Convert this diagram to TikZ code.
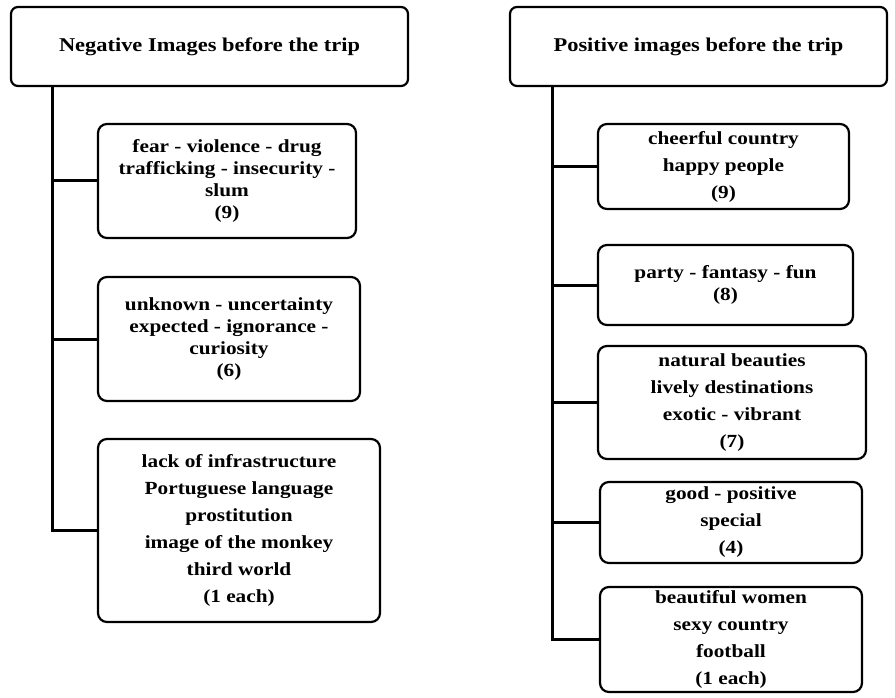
\documentclass[tikz,border=0pt]{standalone}
\usepackage{fontspec}
\setmainfont{Liberation Serif}[FakeStretch=1.15]
\usetikzlibrary{positioning}

\tikzset{
  headbox/.style={draw, line width=2.2pt, rounded corners=7pt, inner sep=0pt,
    align=center, font=\bfseries\fontsize{19.5}{22}\selectfont},
  itembox/.style={draw, line width=2.2pt, rounded corners=9pt, inner sep=0pt,
    align=center, font=\bfseries\fontsize{18.5}{27}\selectfont},
  tightbox/.style={itembox, font=\bfseries\fontsize{18.5}{22}\selectfont},
  branch/.style={line width=3pt}
}

\begin{document}
\begin{tikzpicture}[x=1pt, y=-1pt]
  \useasboundingbox (0,0) rectangle (895,698);

  % negative images
  \node[headbox, minimum width=397pt, minimum height=79pt] (neghead) at (209.5,46.5)
    {Negative Images before the trip};
  \node[tightbox, minimum width=258pt, minimum height=114pt] (neg1) at (227,181)
    {fear - violence - drug\\trafficking - insecurity -\\slum\\(9)};
  \node[tightbox, minimum width=262pt, minimum height=124pt] (neg2) at (229,339)
    {unknown - uncertainty\\expected - ignorance -\\curiosity\\(6)};
  \node[itembox, minimum width=282pt, minimum height=183pt] (neg3) at (239,530.5)
    {lack of infrastructure\\Portuguese language\\prostitution\\image of the monkey\\third world\\(1 each)};

  \coordinate (negroot) at (52,86);
  \draw[branch] (negroot) |- (neg3.west);
  \foreach \b in {neg1,neg2}
    \draw[branch] (negroot |- \b.west) -- (\b.west);

  % positive images
  \node[headbox, minimum width=377pt, minimum height=79pt] (poshead) at (698.5,46.5)
    {Positive images before the trip};
  \node[itembox, minimum width=251pt, minimum height=85pt] (pos1) at (723.5,166.5)
    {cheerful country\\happy people\\(9)};
  \node[tightbox, minimum width=255pt, minimum height=80pt] (pos2) at (725.5,285)
    {party - fantasy - fun\\(8)};
  \node[itembox, minimum width=268pt, minimum height=113pt] (pos3) at (732,402.5)
    {natural beauties\\lively destinations\\exotic - vibrant\\(7)};
  \node[itembox, minimum width=262pt, minimum height=81pt] (pos4) at (731,522.5)
    {good - positive\\special\\(4)};
  \node[itembox, minimum width=262pt, minimum height=105pt] (pos5) at (731,639.5)
    {beautiful women\\sexy country\\football\\(1 each)};

  \coordinate (posroot) at (552,86);
  \draw[branch] (posroot) |- (pos5.west);
  \foreach \b in {pos1,pos2,pos3,pos4}
    \draw[branch] (posroot |- \b.west) -- (\b.west);
\end{tikzpicture}
\end{document}
